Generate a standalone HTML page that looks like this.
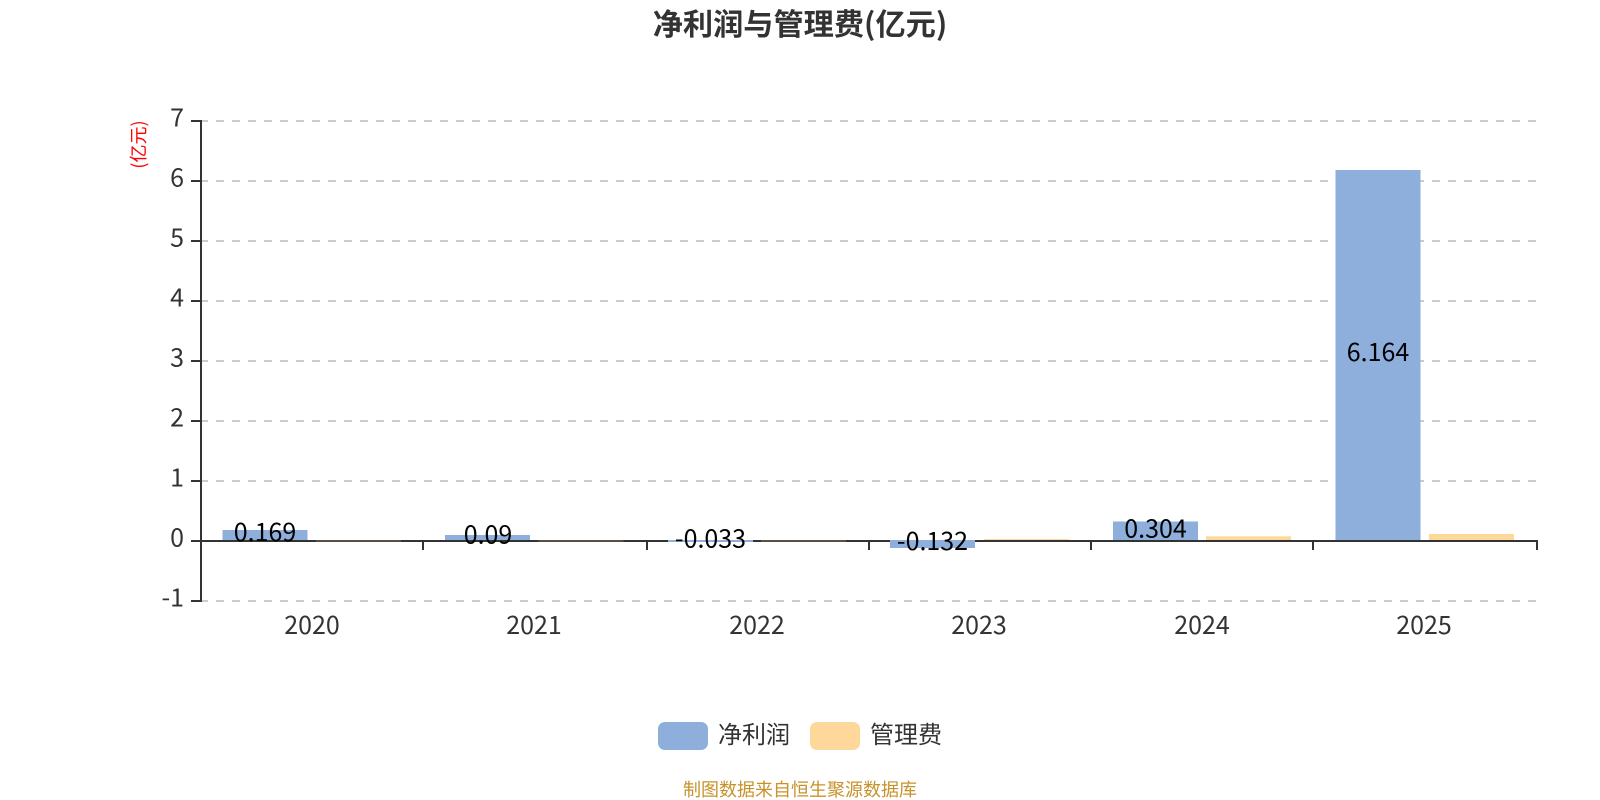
<!DOCTYPE html>
<html>
<head>
<meta charset="utf-8">
<style>
html,body{margin:0;padding:0;background:#fff;}
svg{display:block;}
text{font-family:"Noto Sans CJK SC","Liberation Sans",sans-serif;}
.ax{font-size:25px;fill:#333;}
.val{font-size:25px;fill:#000;text-anchor:middle;}
</style>
</head>
<body>
<svg width="1600" height="800" viewBox="0 0 1600 800" xmlns="http://www.w3.org/2000/svg">
<rect width="1600" height="800" fill="#fff"/>
<text x="800" y="35" text-anchor="middle" style="font-size:30.2px;font-weight:700;fill:#333">净利润与管理费(亿元)</text>

<g stroke="#ccc" stroke-width="2" stroke-dasharray="8 8" fill="none">
<line x1="200" x2="1536" y1="121" y2="121"/>
<line x1="200" x2="1536" y1="181" y2="181"/>
<line x1="200" x2="1536" y1="241" y2="241"/>
<line x1="200" x2="1536" y1="301" y2="301"/>
<line x1="200" x2="1536" y1="361" y2="361"/>
<line x1="200" x2="1536" y1="421" y2="421"/>
<line x1="200" x2="1536" y1="481" y2="481"/>
<line x1="200" x2="1536" y1="601" y2="601"/>
</g>

<g stroke="#333" stroke-width="2" fill="none">
<line x1="201" x2="201" y1="120" y2="602"/>
<line x1="191" x2="201" y1="121" y2="121"/>
<line x1="191" x2="201" y1="181" y2="181"/>
<line x1="191" x2="201" y1="241" y2="241"/>
<line x1="191" x2="201" y1="301" y2="301"/>
<line x1="191" x2="201" y1="361" y2="361"/>
<line x1="191" x2="201" y1="421" y2="421"/>
<line x1="191" x2="201" y1="481" y2="481"/>
<line x1="191" x2="1538" y1="541" y2="541"/>
<line x1="191" x2="201" y1="601" y2="601"/>
<line x1="423" x2="423" y1="541" y2="550"/>
<line x1="647" x2="647" y1="541" y2="550"/>
<line x1="869" x2="869" y1="541" y2="550"/>
<line x1="1091" x2="1091" y1="541" y2="550"/>
<line x1="1313" x2="1313" y1="541" y2="550"/>
<line x1="1537" x2="1537" y1="541" y2="550"/>
</g>
<g stroke="#5a5040" stroke-width="2" fill="none">
<line x1="316" x2="401" y1="541" y2="541"/>
<line x1="538.5" x2="623.5" y1="541" y2="541"/>
<line x1="761" x2="846" y1="541" y2="541"/>
</g>

<g fill="#8eaedb">
<rect x="222.5" y="530" width="85" height="10"/>
<rect x="445" y="535" width="85" height="5"/>
<rect x="668" y="540" width="85" height="2"/>
<rect x="890" y="540" width="85" height="8"/>
<rect x="1113" y="521.5" width="85" height="18.5"/>
<rect x="1335.5" y="170" width="85" height="370"/>
</g>
<g fill="#fed89a">
<rect x="984" y="539" width="85" height="1"/>
<rect x="1206" y="536.3" width="85" height="3.7"/>
<rect x="1429" y="534" width="85" height="6"/>
</g>

<text class="ax" text-anchor="end" x="184" y="126.5">7</text>
<text class="ax" text-anchor="end" x="184" y="186.5">6</text>
<text class="ax" text-anchor="end" x="184" y="246.5">5</text>
<text class="ax" text-anchor="end" x="184" y="306.5">4</text>
<text class="ax" text-anchor="end" x="184" y="366.5">3</text>
<text class="ax" text-anchor="end" x="184" y="426.5">2</text>
<text class="ax" text-anchor="end" x="184" y="486.5">1</text>
<text class="ax" text-anchor="end" x="184" y="546.5">0</text>
<text class="ax" text-anchor="end" x="184" y="606.5">-1</text>

<text class="ax" text-anchor="middle" x="312" y="634">2020</text>
<text class="ax" text-anchor="middle" x="534" y="634">2021</text>
<text class="ax" text-anchor="middle" x="757" y="634">2022</text>
<text class="ax" text-anchor="middle" x="979" y="634">2023</text>
<text class="ax" text-anchor="middle" x="1202" y="634">2024</text>
<text class="ax" text-anchor="middle" x="1424" y="634">2025</text>

<text class="val" x="265" y="541">0.169</text>
<text class="val" x="488" y="543.5">0.09</text>
<text class="val" x="710.5" y="547.5">-0.033</text>
<text class="val" x="932.5" y="550">-0.132</text>
<text class="val" x="1155.5" y="537.5">0.304</text>
<text class="val" x="1378" y="361">6.164</text>

<text transform="translate(145 144.5) rotate(-90)" text-anchor="middle" style="font-size:18px;fill:#f00">(亿元)</text>

<rect x="658" y="722" width="50" height="28" rx="7" fill="#8eaedb"/>
<text x="718" y="743" style="font-size:24px;fill:#333">净利润</text>
<rect x="810" y="722" width="50" height="28" rx="7" fill="#fed89a"/>
<text x="870" y="743" style="font-size:24px;fill:#333">管理费</text>

<text x="800" y="796" text-anchor="middle" style="font-size:18px;fill:#c8922a">制图数据来自恒生聚源数据库</text>
</svg>
</body>
</html>
